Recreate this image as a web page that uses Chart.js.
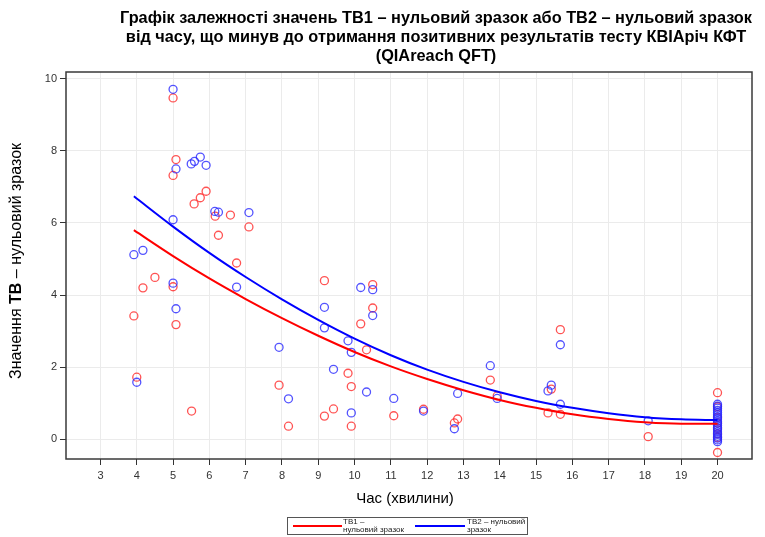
<!DOCTYPE html>
<html>
<head>
<meta charset="utf-8">
<script src="https://cdn.jsdelivr.net/npm/chart.js@4.4.1/dist/chart.umd.min.js"></script>
<style>
  html, body { margin: 0; padding: 0; background: #fff; }
  canvas { display: block; }
</style>
</head>
<body>
<canvas id="chart" width="765" height="537"></canvas>
<script>
// Tick labels
const xTicks = [3, 4, 5, 6, 7, 8, 9, 10, 11, 12, 13, 14, 15, 16, 17, 18, 19, 20];
const yTicks = [0, 2, 4, 6, 8, 10];

// TB1 - nil (red circles)
const tb1Time = [3.92, 4.0, 4.17, 4.5, 5.0, 5.0, 5.08, 5.0, 5.08, 5.51, 5.58, 5.75, 5.91, 6.16, 6.25, 6.58, 6.75, 7.09,
  7.92, 8.18, 9.17, 9.17, 9.42, 9.82, 9.91, 9.91, 10.17, 10.33, 10.5, 10.5, 11.08, 11.9, 12.75, 12.84, 13.74, 13.93,
  15.33, 15.42, 15.67, 15.67, 18.09, 20, 20, 20, 20, 20, 20, 20, 20];
const tb1Value = [3.42, 1.72, 4.2, 4.49, 9.47, 7.32, 7.76, 4.23, 3.18, 0.78, 6.53, 6.7, 6.88, 6.19, 5.66, 6.22, 4.89, 5.89,
  1.5, 0.36, 4.4, 0.64, 0.84, 1.83, 1.46, 0.36, 3.2, 2.48, 4.29, 3.64, 0.65, 0.83, 0.45, 0.56, 1.64, 1.2,
  0.73, 1.39, 3.04, 0.69, 0.07, 1.29, -0.37, 0.9, 0.6, 0.45, 0.3, 0.15, 0.05];

// TB2 - nil (blue circles)
const tb2Time = [3.92, 4.0, 4.17, 5.0, 5.0, 5.08, 5.0, 5.08, 5.5, 5.59, 5.75, 5.91, 6.15, 6.25, 6.75, 7.09,
  7.92, 8.18, 9.17, 9.17, 9.42, 9.82, 9.91, 9.91, 10.17, 10.33, 10.5, 10.5, 11.08, 11.9, 12.75, 12.84, 13.74, 13.93,
  15.33, 15.42, 15.67, 15.67, 18.09,
  20, 20, 20, 20, 20, 20, 20, 20, 20, 20, 20, 20, 20, 20, 20, 20, 20, 20, 20];
const tb2Value = [5.12, 1.58, 5.24, 9.71, 6.09, 7.5, 4.33, 3.62, 7.64, 7.71, 7.83, 7.6, 6.32, 6.3, 4.22, 6.29,
  2.55, 1.12, 3.66, 3.09, 1.94, 2.73, 2.41, 0.73, 4.21, 1.31, 4.15, 3.43, 1.13, 0.78, 0.29, 1.27, 2.04, 1.13,
  1.34, 1.5, 2.62, 0.97, 0.51,
  0.97, 0.92, 0.86, 0.8, 0.74, 0.68, 0.62, 0.56, 0.5, 0.44, 0.38, 0.32, 0.26, 0.2, 0.14, 0.08, 0.03, -0.02, -0.07];

// Fitted curves
const fitTime = [3.92, 5, 6, 7, 8, 9, 10, 11, 12, 13, 14, 15, 16, 17, 18, 19, 20];
const fitTb1 = [5.8, 5.08, 4.46, 3.89, 3.36, 2.87, 2.42, 2.02, 1.67, 1.36, 1.09, 0.87, 0.69, 0.56, 0.47, 0.43, 0.43];
const fitTb2 = [6.74, 5.9, 5.17, 4.5, 3.88, 3.31, 2.79, 2.33, 1.93, 1.59, 1.3, 1.06, 0.87, 0.72, 0.61, 0.55, 0.53];

const pts = (xs, ys) => xs.map((x, i) => ({ x: x, y: ys[i] }));

const RED = 'rgb(255,0,0)';
const BLUE = 'rgb(0,0,255)';
const FONT = '"Liberation Sans", Arial, sans-serif';

const overlay = {
  id: 'overlay',
  afterDraw(chart) {
    const ctx = chart.ctx;
    const a = chart.chartArea;
    ctx.save();
    // frame
    ctx.strokeStyle = '#3a3a3a';
    ctx.lineWidth = 1.5;
    ctx.strokeRect(a.left, a.top, a.right - a.left, a.bottom - a.top);

    // title (condensed to the width of the original)
    ctx.fillStyle = '#000';
    ctx.textAlign = 'center';
    ctx.textBaseline = 'alphabetic';
    ctx.font = 'bold 17px ' + FONT;
    const titleLines = [
      'Графік залежності значень ТВ1 – нульовий зразок або ТВ2 – нульовий зразок',
      'від часу, що минув до отримання позитивних результатів тесту КВІАріч КФТ',
      '(QIAreach QFT)'
    ];
    const sx = 632 / ctx.measureText(titleLines[0]).width;
    ctx.save();
    ctx.translate(436, 0);
    ctx.scale(sx, 1);
    titleLines.forEach((t, i) => ctx.fillText(t, 0, 23 + i * 19));
    ctx.restore();

    // x axis title
    ctx.font = '15px ' + FONT;
    ctx.fillText('Час (хвилини)', 405, 503);

    // y axis title with bold "ТВ"
    const parts = [['Значення ', '16px ' + FONT], ['ТВ', 'bold 16px ' + FONT], [' – нульовий зразок', '16px ' + FONT]];
    let total = 0;
    parts.forEach(p => { ctx.font = p[1]; total += ctx.measureText(p[0]).width; });
    ctx.translate(21, 261);
    ctx.rotate(-Math.PI / 2);
    ctx.textAlign = 'left';
    let pos = -total / 2;
    parts.forEach(p => { ctx.font = p[1]; ctx.fillText(p[0], pos, 0); pos += ctx.measureText(p[0]).width; });
    ctx.setTransform(1, 0, 0, 1, 0, 0);

    // legend
    ctx.strokeStyle = '#555';
    ctx.lineWidth = 1;
    ctx.strokeRect(287.5, 517.5, 240, 17);
    ctx.lineWidth = 2;
    ctx.strokeStyle = RED;
    ctx.beginPath(); ctx.moveTo(293, 526); ctx.lineTo(342, 526); ctx.stroke();
    ctx.strokeStyle = BLUE;
    ctx.beginPath(); ctx.moveTo(415, 526); ctx.lineTo(465, 526); ctx.stroke();
    ctx.fillStyle = '#222';
    ctx.font = '8px ' + FONT;
    ctx.fillText('TB1 –', 343, 524);
    ctx.fillText('нульовий зразок', 343, 532);
    ctx.fillText('TB2 – нульовий', 467, 524);
    ctx.fillText('зразок', 467, 532);
    ctx.restore();
  }
};

new Chart(document.getElementById('chart'), {
  type: 'scatter',
  data: {
    datasets: [
      { type: 'line', label: 'TB1 – нульовий зразок', data: pts(fitTime, fitTb1), borderColor: RED, borderWidth: 2,
        pointRadius: 0, fill: false, cubicInterpolationMode: 'monotone', order: -2 },
      { type: 'line', label: 'TB2 – нульовий зразок', data: pts(fitTime, fitTb2), borderColor: BLUE, borderWidth: 2,
        pointRadius: 0, fill: false, cubicInterpolationMode: 'monotone', order: -1 },
      { label: 'TB2', data: pts(tb2Time, tb2Value), borderColor: 'rgba(40,40,255,0.8)', backgroundColor: 'rgba(0,0,0,0)',
        pointRadius: 4, borderWidth: 1.3, order: 0 },
      { label: 'TB1', data: pts(tb1Time, tb1Value), borderColor: 'rgba(255,40,40,0.8)', backgroundColor: 'rgba(0,0,0,0)',
        pointRadius: 4, borderWidth: 1.3, order: 1 }
    ]
  },
  options: {
    responsive: false,
    animation: false,
    layout: { padding: { top: 72, right: 13, left: 0, bottom: 0 } },
    plugins: { legend: { display: false }, title: { display: false }, tooltip: { enabled: false } },
    scales: {
      x: {
        type: 'linear', min: 2.05, max: 20.95,
        afterFit: s => { s.height = 78; },
        afterBuildTicks: s => { s.ticks = xTicks.map(v => ({ value: v })); },
        grid: { color: '#ebebeb', tickColor: '#333', tickLength: 6, drawTicks: true },
        border: { display: false },
        ticks: { color: '#333', font: { family: FONT, size: 11 }, padding: 4, maxRotation: 0, autoSkip: false }
      },
      y: {
        min: -0.55, max: 10.19,
        afterFit: s => { s.width = 66; },
        afterBuildTicks: s => { s.ticks = yTicks.map(v => ({ value: v })); },
        grid: { color: '#ebebeb', tickColor: '#333', tickLength: 6, drawTicks: true },
        border: { display: false },
        ticks: { color: '#333', font: { family: FONT, size: 11 }, padding: 3 }
      }
    }
  },
  plugins: [overlay]
});
</script>
</body>
</html>
